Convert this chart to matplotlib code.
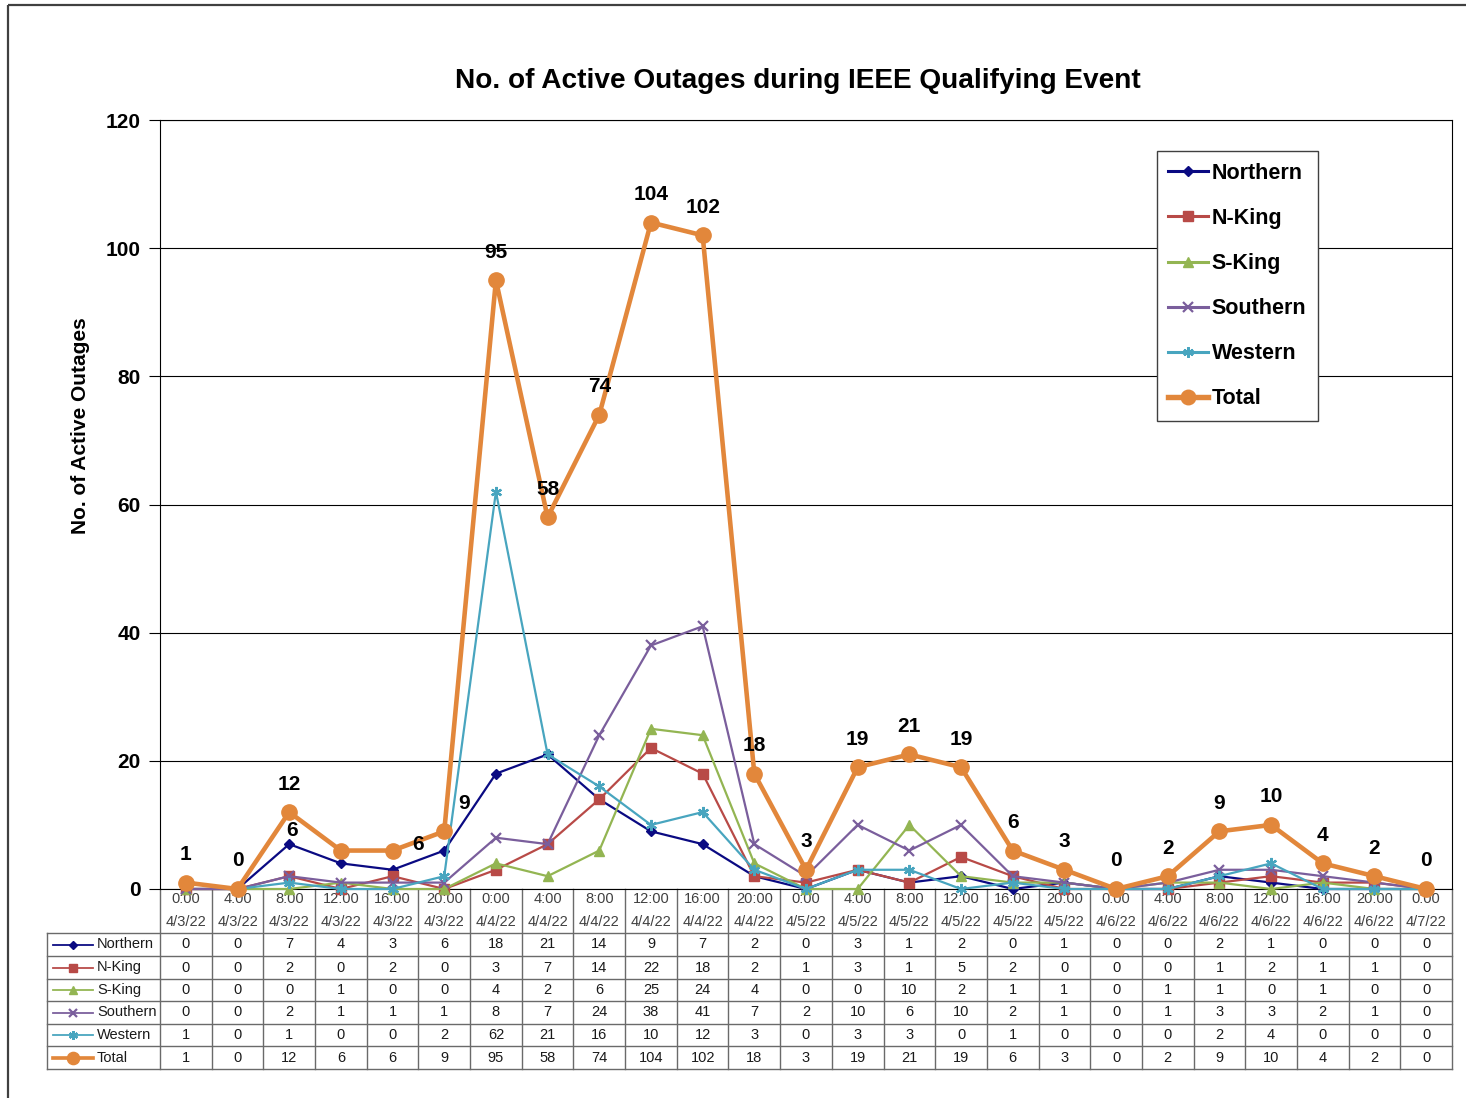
import matplotlib
matplotlib.use("Agg")
import matplotlib.pyplot as plt
from matplotlib.lines import Line2D
from matplotlib.patches import Rectangle
from matplotlib.transforms import blended_transform_factory

plt.rcParams['font.family'] = ['Liberation Sans', 'DejaVu Sans']

# ---------------- data ----------------
times = ["0:00", "4:00", "8:00", "12:00", "16:00", "20:00"] * 4 + ["0:00"]
dates = (["4/3/22"] * 6 + ["4/4/22"] * 6 + ["4/5/22"] * 6 + ["4/6/22"] * 6 + ["4/7/22"])

series_names = ["Northern", "N-King", "S-King", "Southern", "Western", "Total"]
northern = [0, 0, 7, 4, 3, 6, 18, 21, 14, 9, 7, 2, 0, 3, 1, 2, 0, 1, 0, 0, 2, 1, 0, 0, 0]
nking    = [0, 0, 2, 0, 2, 0, 3, 7, 14, 22, 18, 2, 1, 3, 1, 5, 2, 0, 0, 0, 1, 2, 1, 1, 0]
sking    = [0, 0, 0, 1, 0, 0, 4, 2, 6, 25, 24, 4, 0, 0, 10, 2, 1, 1, 0, 1, 1, 0, 1, 0, 0]
southern = [0, 0, 2, 1, 1, 1, 8, 7, 24, 38, 41, 7, 2, 10, 6, 10, 2, 1, 0, 1, 3, 3, 2, 1, 0]
western  = [1, 0, 1, 0, 0, 2, 62, 21, 16, 10, 12, 3, 0, 3, 3, 0, 1, 0, 0, 0, 2, 4, 0, 0, 0]
total    = [1, 0, 12, 6, 6, 9, 95, 58, 74, 104, 102, 18, 3, 19, 21, 19, 6, 3, 0, 2, 9, 10, 4, 2, 0]
all_series = [northern, nking, sking, southern, western, total]

# ---------------- styles ----------------
W, H = 1466, 1098
colors = ["#0A0A82", "#B84A47", "#93B552", "#7A5E9C", "#48A5BF", "#E2873B"]
markers = ["D", "s", "^", "x", (6, 2, 0), "o"]
msizes = [5.5, 7, 7, 7, 8, 11]
lwidths = [1.6, 1.6, 1.6, 1.6, 1.6, 3.3]
mews = [1, 1, 1, 1.6, 1.6, 1]
# label offsets (pixels) for Total data labels; default above point
label_offsets = {3: (-49, 20), 4: (26, 6), 5: (20, 28)}

fig = plt.figure(figsize=(W / 100, H / 100), dpi=100)

# overlay axes in pixel coordinates for table / frame
ov = fig.add_axes([0, 0, 1, 1], zorder=0)
ov.set_xlim(0, W)
ov.set_ylim(H, 0)
ov.axis("off")
ov.patch.set_alpha(0)

# outer frame
ov.add_patch(Rectangle((8, 5), W + 20, H + 20, fill=False, ec="#404040", lw=1.6))

L, R, T, B = 160, 1452, 120, 889
ax = fig.add_axes([L / W, 1 - B / H, (R - L) / W, (B - T) / H], zorder=2)
ax.patch.set_alpha(0)
n = len(total)
x = list(range(n))
ax.set_xlim(-0.5, n - 0.5)
ax.set_ylim(0, 120)
ax.set_yticks(range(0, 121, 20))
ax.tick_params(axis="y", length=8, width=0.8, direction="out", pad=6, labelsize=15)
for lab in ax.get_yticklabels():
    lab.set_fontweight("bold")
ax.set_xticks([])
ax.yaxis.grid(True, color="black", lw=0.8)
ax.set_axisbelow(True)
for sp in ax.spines.values():
    sp.set_color("black")
    sp.set_linewidth(0.8)

handles = []
for i, (name, vals) in enumerate(zip(series_names, all_series)):
    ln, = ax.plot(x, vals, color=colors[i], marker=markers[i], markersize=msizes[i],
                  lw=lwidths[i], mew=mews[i], mec=colors[i], mfc=colors[i],
                  clip_on=False, zorder=3 + i, label=name)
    handles.append(ln)

for i, v in enumerate(total):
    dx, dy = label_offsets.get(i, (0, 28))
    ax.annotate(str(v), (i, v), xytext=(dx, dy), textcoords="offset pixels",
                ha="center", va="center", fontsize=15, fontweight="bold", zorder=10)

# legend handles (slightly thicker lines, as in the reference legend)
leg_handles = [Line2D([], [], color=colors[i], marker=markers[i], markersize=msizes[i] * 0.95,
                      lw=lwidths[i] + 0.6, mew=mews[i], mec=colors[i], mfc=colors[i])
               for i in range(len(series_names))]
leg = ax.legend(leg_handles, series_names, loc="upper right",
                bbox_to_anchor=(1318 / W, 1 - 151 / H), bbox_transform=fig.transFigure,
                prop={"weight": "bold", "size": 15.5}, frameon=True, fancybox=False,
                edgecolor="#404040", framealpha=1, handlelength=1.85, handletextpad=0.15,
                labelspacing=1.12, borderpad=0.55, borderaxespad=0)
leg.get_frame().set_linewidth(1.0)

fig.text(798 / W, 1 - 81 / H, "No. of Active Outages during IEEE Qualifying Event",
         ha="center", va="center", fontsize=20.2, fontweight="bold")
fig.text(80 / W, 1 - 426 / H, "No. of Active Outages", rotation=90,
         ha="center", va="center", fontsize=15, fontweight="bold")

# ---------------- data table ----------------
bt = blended_transform_factory(ax.transData, ov.transData)
gcol = "#6a6a6a"
row_lines = [933, 956, 979, 1001, 1024, 1046, 1069]
table_left = 47
for k in range(n + 1):
    ov.plot([k - 0.5, k - 0.5], [B, row_lines[-1]], color=gcol, lw=1.0, transform=bt)
ov.plot([table_left, table_left], [row_lines[0], row_lines[-1]], color=gcol, lw=1.0)
for yl in row_lines:
    ov.plot([table_left, R], [yl, yl], color=gcol, lw=1.0)

for i in range(n):
    ov.text(i, 899, times[i], transform=bt, ha="center", va="center", fontsize=10.5, color="#404040")
    ov.text(i, 922, dates[i], transform=bt, ha="center", va="center", fontsize=10.5, color="#404040")

for r, (name, vals) in enumerate(zip(series_names, all_series)):
    yc = (row_lines[r] + row_lines[r + 1]) / 2
    ov.add_line(Line2D([53, 93], [yc, yc], color=colors[r], lw=lwidths[r] * 0.8))
    ov.add_line(Line2D([73], [yc], color=colors[r], marker=markers[r], markersize=msizes[r] * 0.8,
                       mfc=colors[r], mec=colors[r], mew=mews[r]))
    ov.text(97, yc, name, ha="left", va="center", fontsize=10.5, color="#1a1a1a")
    for i, v in enumerate(vals):
        ov.text(i, yc, str(v), transform=bt, ha="center", va="center", fontsize=10.5, color="#1a1a1a")

fig.savefig("out.png", dpi=100)
